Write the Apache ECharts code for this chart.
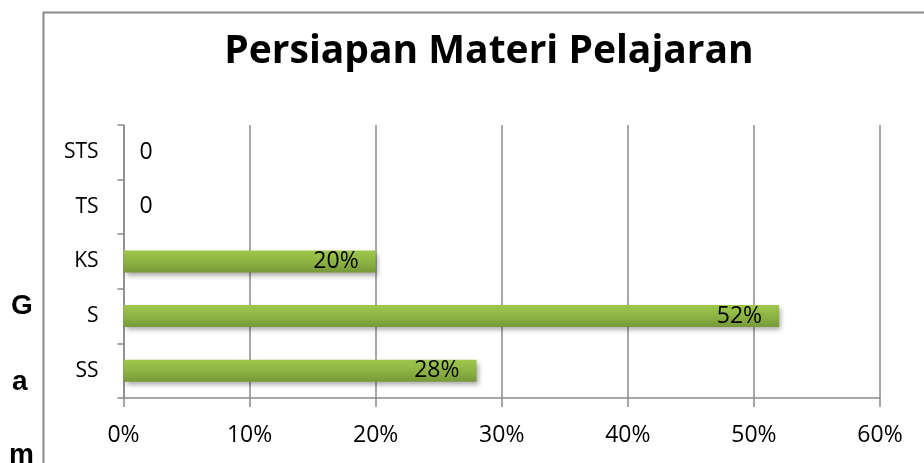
<!DOCTYPE html>
<html><head><meta charset="utf-8">
<script src="https://cdn.jsdelivr.net/npm/echarts@6/dist/echarts.min.js"></script>
<style>html,body{margin:0;padding:0;background:#fff}#c{width:924px;height:463px}</style>
</head><body><div id="c"></div>
<script>
const categories = ['SS', 'S', 'KS', 'TS', 'STS'];
const values = [28, 52, 20, 0, 0];
const xTicks = [0, 10, 20, 30, 40, 50, 60];
const titleText = 'Persiapan Materi Pelajaran';

const chart = echarts.init(document.getElementById('c'));
const font = '"Open Sans", Lato, sans-serif';
const sideFont = 'bold 28px "Liberation Sans", Arial, sans-serif';
chart.setOption({
  animation: false,
  title: {text: titleText, left: 484, top: 27, textAlign: 'center',
    textStyle: {fontFamily: font, fontSize: 39, fontWeight: 'bold', color: '#000'}},
  graphic: [
    {type: 'rect', shape: {x: 43.5, y: 12.5, width: 1000, height: 1000}, style: {fill: 'none', stroke: '#8a8a8a', lineWidth: 2}},
    {type: 'text', x: 11, y: 306, style: {text: 'G', font: sideFont, fill: '#000', verticalAlign: 'middle'}},
    {type: 'text', x: 12, y: 382, style: {text: 'a', font: sideFont, fill: '#000', verticalAlign: 'middle'}},
    {type: 'text', x: 9, y: 455, style: {text: 'm', font: sideFont, fill: '#000', verticalAlign: 'middle'}}
  ],
  grid: {left: 123.5, right: 44, top: 125, bottom: 65},
  xAxis: {type: 'value', min: xTicks[0], max: xTicks[xTicks.length - 1], interval: 10,
    axisLine: {show: true, lineStyle: {color: '#8a8a8a', width: 1.5}},
    axisTick: {show: true, length: 9, lineStyle: {color: '#8a8a8a', width: 1.5}},
    splitLine: {show: true, lineStyle: {color: '#8a8a8a', width: 1.5}},
    axisLabel: {formatter: '{value}%', margin: 26, fontFamily: font, fontSize: 23, color: '#000'}},
  yAxis: {type: 'category', data: categories,
    axisLine: {show: true, lineStyle: {color: '#8a8a8a', width: 1.5}},
    axisTick: {show: true, length: 6, lineStyle: {color: '#8a8a8a', width: 1.5}},
    axisLabel: {margin: 25, fontFamily: font, fontSize: 21, color: '#000'}},
  series: [{
    type: 'bar', barWidth: 22,
    data: values.map(v => ({value: v, label: v === 0 ?
      {position: 'right', distance: 16, formatter: '0'} :
      {position: 'insideRight', distance: 17, formatter: v + '%'}})),
    itemStyle: {
      color: new echarts.graphic.LinearGradient(0, 0, 0, 1, [
        {offset: 0, color: '#9ec74d'}, {offset: 0.5, color: '#8db443'}, {offset: 1, color: '#779838'}]),
      shadowColor: 'rgba(0,0,0,0.35)', shadowBlur: 5, shadowOffsetX: 2, shadowOffsetY: 3
    },
    label: {show: true, fontFamily: font, fontSize: 23, color: '#000'}
  }]
});
</script></body></html>
